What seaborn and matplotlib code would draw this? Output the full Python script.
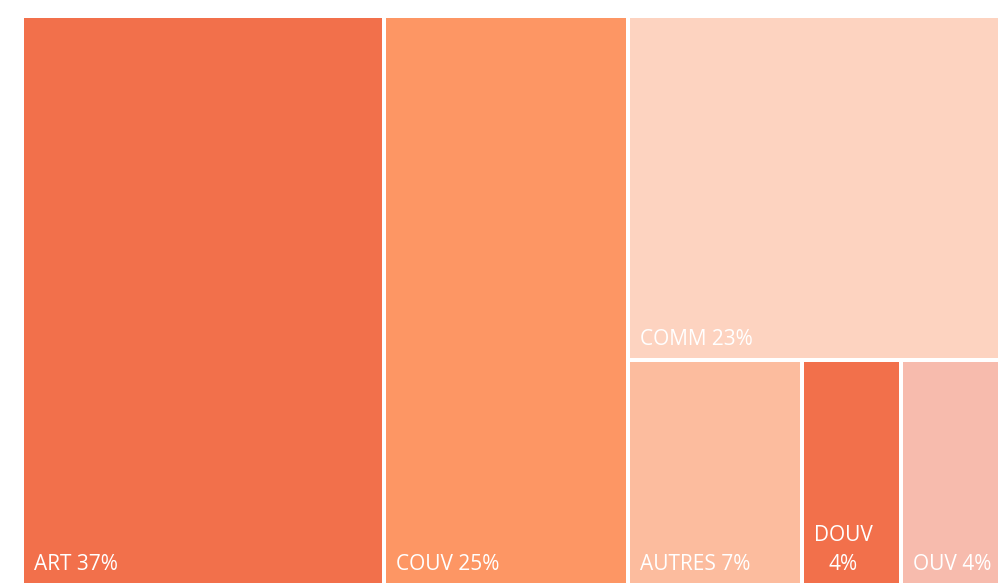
"""Treemap of shares by category, drawn with seaborn styling and matplotlib patches."""

import matplotlib

matplotlib.use("Agg")
import matplotlib.pyplot as plt
from matplotlib.patches import Rectangle
import seaborn as sns

# data
categories = ["ART", "COUV", "COMM", "AUTRES", "DOUV", "OUV"]
shares = [37, 25, 23, 7, 4, 4]
colors = ["#F2704B", "#FD9664", "#FDD3C0", "#FCBC9E", "#F2704B", "#F7BBAD"]

sns.set_theme(style="white")
plt.rcParams["font.family"] = ["Open Sans", "DejaVu Sans"]

FIG_W, FIG_H = 998, 588
# axes in pixels (edges include half the white border line)
AX_L, AX_T, AX_R, AX_B = 22, 16, 1000, 585
W, H = AX_R - AX_L, AX_B - AX_T
GAP = 4


def layout(values):
    """First two items as full-height columns, rest: one on top, others in a row below."""
    total = sum(values)
    rects = []
    x = 0.0
    for v in values[:2]:
        w = W * v / total
        rects.append((x, 0.0, w, H))
        x += w
    rest = values[2:]
    rest_total = sum(rest)
    col_w = W - x
    top_h = H * rest[0] / rest_total
    rects.append((x, 0.0, col_w, top_h))
    row_total = sum(rest[1:])
    xx = x
    for v in rest[1:]:
        w = col_w * v / row_total
        rects.append((xx, top_h, w, H - top_h))
        xx += w
    return rects


fig = plt.figure(figsize=(FIG_W / 100, FIG_H / 100), dpi=100)
ax = fig.add_axes([AX_L / FIG_W, 1 - AX_B / FIG_H, W / FIG_W, H / FIG_H])
ax.set_xlim(0, W)
ax.set_ylim(H, 0)
ax.axis("off")

for (x, y, w, h), cat, val, col in zip(layout(shares), categories, shares, colors):
    ax.add_patch(Rectangle((x, y), w, h, facecolor=col, edgecolor="white",
                           linewidth=GAP * 72 / 100, clip_on=False))
    label = f"{cat}\n{val}%" if cat == "DOUV" else f"{cat} {val}%"
    ax.text(x + 12, y + h - 15, label, color="white", fontsize=15,
            ha="left", va="baseline", multialignment="center", linespacing=1.5)

fig.savefig("out.png", dpi=100)
